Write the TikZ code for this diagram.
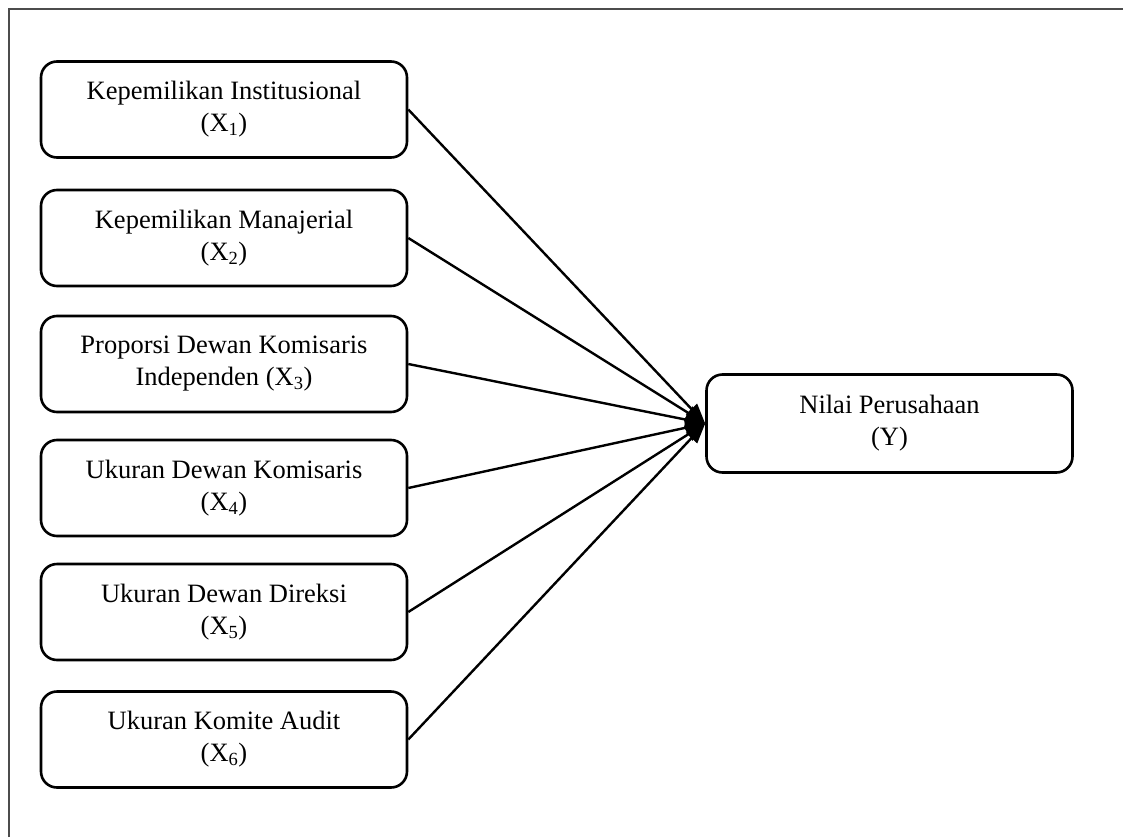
\documentclass[tikz,border=0pt]{standalone}
\usepackage{fontspec}
\setmainfont{Liberation Serif}
\usetikzlibrary{arrows.meta}
\begin{document}
\begin{tikzpicture}[x=1pt,y=-1pt,
  varbox/.style={draw, line width=2.6pt, rounded corners=16pt,
    minimum width=366pt, minimum height=96pt, align=center, inner sep=0pt,
    font=\fontsize{26.5}{32}\selectfont},
  conn/.style={line width=2.4pt, -{Triangle[length=20pt,width=15pt]}},
  frameline/.style={line width=2pt, draw=black!70}]
\useasboundingbox (0,0) rectangle (1123,837);
\coordinate (fa) at (9,837);
\coordinate (fb) at (9,9);
\coordinate (fc) at (1123,9);
\draw[frameline] (fa) -- (fb) -- (fc);

\node[varbox] (x1) at (224,109.5) {Kepemilikan Institusional\\(X\textsubscript{1})};
\node[varbox] (x2) at (224,238) {Kepemilikan Manajerial\\(X\textsubscript{2})};
\node[varbox] (x3) at (224,364) {Proporsi Dewan Komisaris\\Independen (X\textsubscript{3})};
\node[varbox] (x4) at (224,488) {Ukuran Dewan Komisaris\\(X\textsubscript{4})};
\node[varbox] (x5) at (224,612) {Ukuran Dewan Direksi\\(X\textsubscript{5})};
\node[varbox] (x6) at (224,739.5) {Ukuran Komite Audit\\(X\textsubscript{6})};

\node[varbox, minimum height=98pt] (y) at (889.5,423.5) {Nilai Perusahaan\\(Y)};

\foreach \n in {x1,x2,x3,x4,x5,x6}
  \draw[conn] (\n.east) -- (y.west);
\end{tikzpicture}
\end{document}
